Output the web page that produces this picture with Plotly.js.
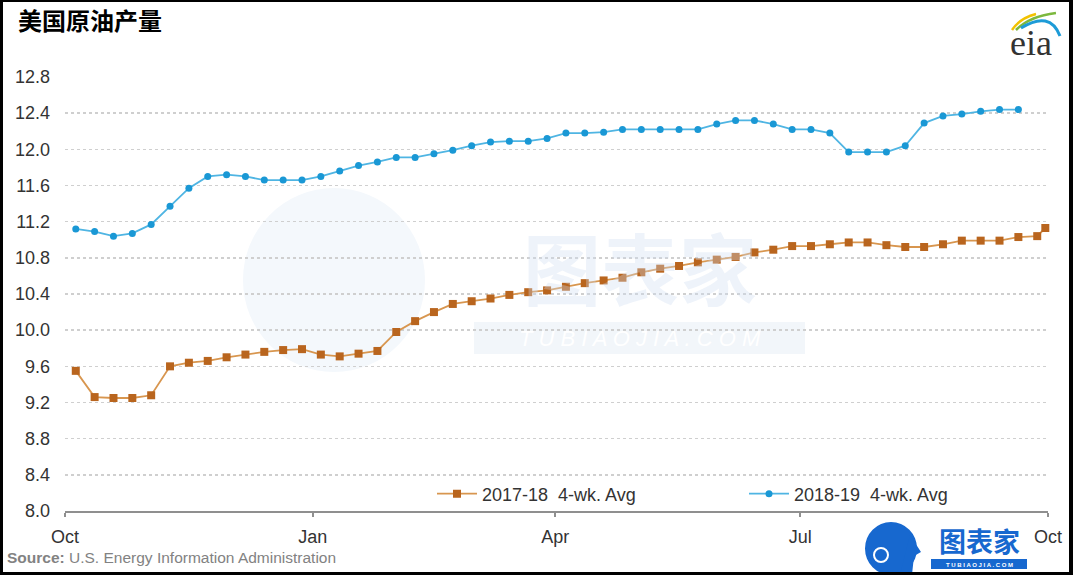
<!DOCTYPE html>
<html>
<head>
<meta charset="utf-8">
<script src="https://cdn.plot.ly/plotly-3.0.1.min.js"></script>
<style>
  html, body { margin: 0; padding: 0; background: #fff; }
  #wrap { position: relative; width: 1073px; height: 575px; }
  #chart { position: absolute; left: 0; top: 0; width: 1073px; height: 575px; }
  #frame { position: absolute; left: 0; top: 0; width: 1073px; height: 575px; box-sizing: border-box;
           border-style: solid; border-color: #000; border-width: 2px 4px 3px 3px; pointer-events: none; }
</style>
</head>
<body>
<div id="wrap"><div id="chart"></div><div id="frame"></div></div>
<script>
// ---- Data ----
const chartTitle = '美国原油产量';
const sourceText = 'U.S. Energy Information Administration';

// Week-ending dates placed on a common Oct–Oct axis
const weekEnding = [
  '2018-10-05','2018-10-12','2018-10-19','2018-10-26',
  '2018-11-02','2018-11-09','2018-11-16','2018-11-23','2018-11-30',
  '2018-12-07','2018-12-14','2018-12-21','2018-12-28',
  '2019-01-04','2019-01-11','2019-01-18','2019-01-25',
  '2019-02-01','2019-02-08','2019-02-15','2019-02-22',
  '2019-03-01','2019-03-08','2019-03-15','2019-03-22','2019-03-29',
  '2019-04-05','2019-04-12','2019-04-19','2019-04-26',
  '2019-05-03','2019-05-10','2019-05-17','2019-05-24','2019-05-31',
  '2019-06-07','2019-06-14','2019-06-21','2019-06-28',
  '2019-07-05','2019-07-12','2019-07-19','2019-07-26',
  '2019-08-02','2019-08-09','2019-08-16','2019-08-23','2019-08-30',
  '2019-09-06','2019-09-13','2019-09-20','2019-09-27'
];
const lastWeek1718 = ['2019-09-30'];

const series1718Name = '2017-18  4-wk. Avg';
const series1718 = [
  9.55, 9.26, 9.25, 9.25, 9.28, 9.60, 9.64, 9.66, 9.70, 9.73,
  9.76, 9.78, 9.79, 9.73, 9.71, 9.74, 9.77, 9.98, 10.10, 10.20,
  10.29, 10.32, 10.35, 10.39, 10.42, 10.44, 10.48, 10.52, 10.55, 10.58,
  10.64, 10.68, 10.71, 10.75, 10.78, 10.81, 10.86, 10.89, 10.93, 10.93,
  10.95, 10.97, 10.97, 10.94, 10.92, 10.92, 10.95, 10.99, 10.99, 10.99,
  11.03, 11.04, 11.13
];

const series1819Name = '2018-19  4-wk. Avg';
const series1819 = [
  11.12, 11.09, 11.04, 11.07, 11.17, 11.37, 11.57, 11.70, 11.72, 11.70,
  11.66, 11.66, 11.66, 11.70, 11.76, 11.82, 11.86, 11.91, 11.91, 11.95,
  11.99, 12.04, 12.08, 12.09, 12.09, 12.12, 12.18, 12.18, 12.19, 12.22,
  12.22, 12.22, 12.22, 12.22, 12.28, 12.32, 12.32, 12.28, 12.22, 12.22,
  12.18, 11.97, 11.97, 11.97, 12.04, 12.29, 12.37, 12.39, 12.42, 12.44,
  12.44
];

const xTickVals = ['2018-10-01','2019-01-01','2019-04-01','2019-07-01','2019-10-01'];
const xTickText = ['Oct','Jan','Apr','Jul','Oct'];
const yTickVals = [8.0, 8.4, 8.8, 9.2, 9.6, 10.0, 10.4, 10.8, 11.2, 11.6, 12.0, 12.4, 12.8];

// ---- Layout helpers (pixel -> paper) ----
const W = 1073, H = 575;
const M = { l: 65, r: 25, t: 77, b: 64 };
const PW = W - M.l - M.r, PH = H - M.t - M.b;
const px = x => (x - M.l) / PW;
const py = y => (H - M.b - y) / PH;

const FONT = '"Liberation Sans", Arial, sans-serif';
const CJK = '"Noto Sans CJK SC", "Noto Sans", sans-serif';

const x1718 = weekEnding.concat(lastWeek1718);
const x1819 = weekEnding.slice(0, series1819.length);

const traces = [
  {
    type: 'scatter', mode: 'lines+markers', name: series1718Name,
    x: x1718, y: series1718, legend: 'legend',
    line: { color: '#D8964F', width: 1.8 },
    marker: { symbol: 'square', size: 8, color: '#B9651E' },
    cliponaxis: false
  },
  {
    type: 'scatter', mode: 'lines+markers', name: series1819Name,
    x: x1819, y: series1819, legend: 'legend2',
    line: { color: '#4FB5E3', width: 1.8 },
    marker: { symbol: 'circle', size: 7, color: '#1A98D5' },
    cliponaxis: false
  }
];

// Logo arcs (eia) & decorative marks
const P = (x, y) => px(x).toFixed(4) + ',' + py(y).toFixed(4);
const shapes = [
  // faint watermark head
  { type: 'circle', xref: 'paper', yref: 'paper', layer: 'below',
    x0: px(243), x1: px(425), y0: py(372), y1: py(188),
    fillcolor: '#F4F8FC', line: { width: 0 } },
  // faint watermark url band
  { type: 'rect', xref: 'paper', yref: 'paper', layer: 'below',
    x0: px(474), x1: px(805), y0: py(354), y1: py(322),
    fillcolor: '#F2F6FA', line: { width: 0 } },
  // eia arcs
  { type: 'path', xref: 'paper', yref: 'paper',
    path: 'M' + P(1012, 30) + ' Q' + P(1020, 18) + ' ' + P(1036, 14),
    line: { color: '#F2C200', width: 2.5 } },
  { type: 'path', xref: 'paper', yref: 'paper',
    path: 'M' + P(1016, 30) + ' Q' + P(1030, 16) + ' ' + P(1056, 13),
    line: { color: '#7CB83E', width: 2.5 } },
  { type: 'path', xref: 'paper', yref: 'paper',
    path: 'M' + P(1021, 28) + ' Q' + P(1050, 10) + ' ' + P(1060, 36),
    line: { color: '#1D9BD7', width: 3 } },
  // bottom-right logo: head
  { type: 'circle', xref: 'paper', yref: 'paper',
    x0: px(865), x1: px(917), y0: py(575), y1: py(522),
    fillcolor: '#1768CF', line: { width: 0 } },
  { type: 'path', xref: 'paper', yref: 'paper',
    path: 'M' + P(910, 535) + ' L' + P(921, 552) + ' L' + P(914, 556) + ' L' + P(912, 575) + ' L' + P(900, 575) + ' Z',
    fillcolor: '#1768CF', line: { width: 0 } },
  { type: 'circle', xref: 'paper', yref: 'paper',
    x0: px(874), x1: px(888), y0: py(562), y1: py(548),
    fillcolor: 'rgba(0,0,0,0)', line: { color: '#ffffff', width: 2 } },
  // bottom-right logo: url band
  { type: 'rect', xref: 'paper', yref: 'paper',
    x0: px(931), x1: px(1027), y0: py(569), y1: py(559),
    fillcolor: '#1768CF', line: { width: 0 } }
];

const annotations = [
  // watermark text
  { xref: 'paper', yref: 'paper', x: px(640), y: py(266), text: '图表家',
    showarrow: false, xanchor: 'center', yanchor: 'middle',
    font: { family: CJK, size: 78, color: 'rgba(205,222,240,0.35)', weight: 700 } },
  { xref: 'paper', yref: 'paper', x: px(640), y: py(338), text: '<i>T U B I A O J I A . C O M</i>',
    showarrow: false, xanchor: 'center', yanchor: 'middle',
    font: { family: FONT, size: 22, color: '#FFFFFF' } },
  // eia text
  { xref: 'paper', yref: 'paper', x: px(1031), y: py(43), text: 'eia',
    showarrow: false, xanchor: 'center', yanchor: 'middle',
    font: { family: '"Liberation Serif", "DejaVu Serif", serif', size: 36, color: '#333333' } },
  // source
  { xref: 'paper', yref: 'paper', x: px(5), y: py(557), text: '<b>Source:</b> ' + sourceText,
    showarrow: false, xanchor: 'left', yanchor: 'middle',
    font: { family: FONT, size: 15.5, color: '#828282' } },
  // bottom-right logo text
  { xref: 'paper', yref: 'paper', x: px(979), y: py(540), text: '图表家',
    showarrow: false, xanchor: 'center', yanchor: 'middle',
    font: { family: CJK, size: 27, color: '#1768CF', weight: 700 } },
  { xref: 'paper', yref: 'paper', x: px(979), y: py(564.5), text: 'T U B I A O J I A . C O M',
    showarrow: false, xanchor: 'center', yanchor: 'middle',
    font: { family: FONT, size: 6, color: '#FFFFFF', weight: 700 } }
];

const legendBase = {
  orientation: 'h', xanchor: 'left', yanchor: 'middle',
  bgcolor: 'rgba(0,0,0,0)', borderwidth: 0, itemwidth: 40,
  font: { family: FONT, size: 18, color: '#333333' }
};

const layout = {
  width: W, height: H,
  margin: M,
  paper_bgcolor: '#ffffff', plot_bgcolor: '#ffffff',
  title: { text: chartTitle, xref: 'container', yref: 'container',
           x: 18 / W, xanchor: 'left', y: 1 - 22 / H, yanchor: 'middle',
           font: { family: CJK, size: 24, color: '#000000', weight: 700 } },
  xaxis: {
    type: 'date', range: ['2018-10-01', '2019-10-01'],
    tickvals: xTickVals, ticktext: xTickText,
    showgrid: false, zeroline: false,
    showline: true, linecolor: '#8F8F8F', linewidth: 2,
    ticks: 'outside', ticklen: 4, tickcolor: '#8F8F8F', tickwidth: 1.5,
    ticklabelstandoff: 4,
    tickfont: { family: FONT, size: 18, color: '#333333' }
  },
  yaxis: {
    range: [8.0, 12.8], tickvals: yTickVals, tickformat: '.1f',
    showgrid: true, gridcolor: '#CFCFCF', gridwidth: 1.5, griddash: 'dot',
    zeroline: false, showline: false, ticks: '',
    ticklabelstandoff: 14,
    tickfont: { family: FONT, size: 18, color: '#333333' }
  },
  legend: Object.assign({}, legendBase, { x: px(432), y: py(494) }),
  legend2: Object.assign({}, legendBase, { x: px(744), y: py(494) }),
  shapes: shapes,
  annotations: annotations,
  showlegend: true
};

Plotly.newPlot('chart', traces, layout, { staticPlot: true, displayModeBar: false });
</script>
</body>
</html>
